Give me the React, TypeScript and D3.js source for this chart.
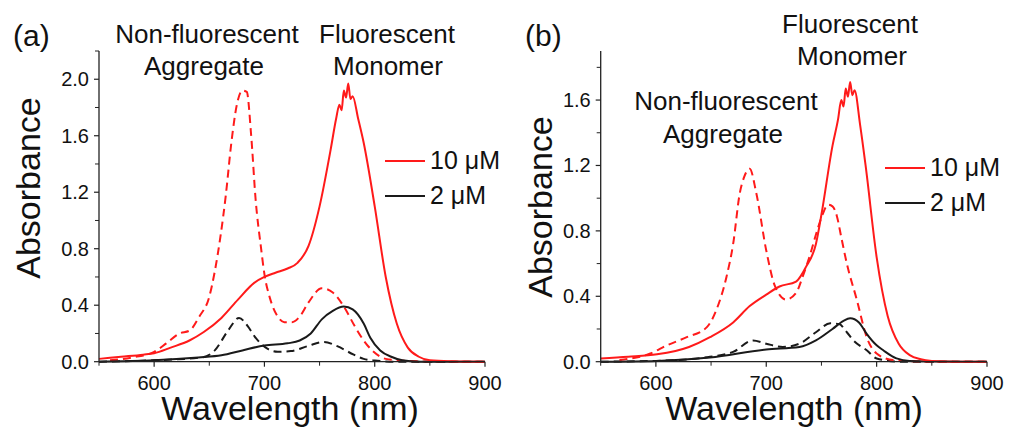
import React from 'react';
import * as d3 from 'd3';

// ---- panel (a) data ----
const aRedSolidWl = [550, 570, 590, 600, 615, 632, 645, 661, 676, 691, 700, 710, 721, 730, 740, 750, 760, 765, 768, 770, 772, 774, 776, 778, 780, 785, 790, 800, 810, 820, 830, 840, 850, 870, 900];
const aRedSolidAbs = [0.02, 0.035, 0.05, 0.06, 0.1, 0.15, 0.21, 0.31, 0.44, 0.56, 0.6, 0.63, 0.66, 0.7, 0.82, 1.1, 1.5, 1.72, 1.82, 1.78, 1.92, 1.87, 1.97, 1.86, 1.88, 1.72, 1.55, 1.1, 0.6, 0.27, 0.1, 0.035, 0.01, 0.003, 0.0];

const aRedDashWl = [560, 580, 600, 611, 623, 632, 641, 650, 655, 660, 665, 670, 675, 680, 684, 688, 692, 697, 700, 705, 712, 718, 725, 732, 740, 752, 762, 772, 782, 790, 799, 810, 830, 860, 900];
const aRedDashAbs = [0.01, 0.03, 0.07, 0.13, 0.2, 0.22, 0.32, 0.46, 0.64, 0.88, 1.18, 1.55, 1.82, 1.92, 1.91, 1.6, 1.15, 0.8, 0.62, 0.45, 0.32, 0.28, 0.28, 0.32, 0.42, 0.52, 0.49, 0.39, 0.25, 0.15, 0.07, 0.02, 0.005, 0.0, 0.0];

const aBlackSolidWl = [550, 600, 640, 661, 680, 700, 721, 732, 742, 752, 762, 772, 780, 790, 796, 805, 815, 825, 840, 900];
const aBlackSolidAbs = [0.0, 0.01, 0.03, 0.045, 0.08, 0.115, 0.13, 0.15, 0.2, 0.3, 0.36, 0.39, 0.37, 0.27, 0.17, 0.08, 0.035, 0.01, 0.0, 0.0];

const aBlackDashWl = [550, 600, 643, 655, 667, 677, 685, 691, 703, 712, 724, 739, 754, 766, 781, 790, 800, 820, 900];
const aBlackDashAbs = [0.0, 0.01, 0.03, 0.08, 0.22, 0.31, 0.25, 0.18, 0.09, 0.07, 0.075, 0.11, 0.14, 0.11, 0.05, 0.02, 0.008, 0.0, 0.0];

// ---- panel (b) data ----
const bRedSolidWl = [550, 575, 601, 630, 649, 670, 685, 700, 712, 727, 736, 745, 750, 760, 765, 768, 770, 772, 774, 776, 778, 780, 785, 790, 800, 810, 820, 830, 840, 850, 870, 900];
const bRedSolidAbs = [0.02, 0.03, 0.045, 0.09, 0.15, 0.24, 0.34, 0.41, 0.46, 0.49, 0.58, 0.72, 0.9, 1.32, 1.48, 1.6, 1.56, 1.67, 1.62, 1.71, 1.63, 1.66, 1.45, 1.2, 0.64, 0.28, 0.11, 0.04, 0.015, 0.005, 0.0, 0.0];

const bRedDashWl = [567, 595, 610, 628, 646, 655, 664, 670, 676, 680, 685, 691, 700, 708, 718, 727, 733, 740, 746, 751, 756, 760, 764, 768, 773, 782, 791, 800, 815, 850, 900];
const bRedDashAbs = [0.01, 0.05, 0.1, 0.15, 0.21, 0.32, 0.52, 0.72, 1.03, 1.13, 1.18, 1.03, 0.68, 0.46, 0.38, 0.42, 0.52, 0.66, 0.8, 0.9, 0.96, 0.95, 0.89, 0.76, 0.6, 0.38, 0.15, 0.05, 0.01, 0.0, 0.0];

const bBlackSolidWl = [550, 601, 649, 700, 730, 745, 760, 770, 776, 784, 791, 800, 806, 818, 830, 900];
const bBlackSolidAbs = [0.0, 0.005, 0.025, 0.075, 0.09, 0.13, 0.2, 0.25, 0.265, 0.24, 0.17, 0.1, 0.07, 0.02, 0.005, 0.0];

const bBlackDashWl = [550, 600, 649, 670, 688, 700, 715, 730, 745, 758, 766, 773, 779, 791, 800, 820, 900];
const bBlackDashAbs = [0.0, 0.005, 0.03, 0.06, 0.13, 0.11, 0.09, 0.11, 0.18, 0.235, 0.23, 0.18, 0.13, 0.07, 0.02, 0.0, 0.0];

const xTicks = [600, 700, 800, 900];
const xMinorTicks = [550, 650, 750, 850];
const aYTicks = [0.0, 0.4, 0.8, 1.2, 1.6, 2.0];
const aYMinorTicks = [0.2, 0.6, 1.0, 1.4, 1.8, 2.2];
const bYTicks = [0.0, 0.4, 0.8, 1.2, 1.6];
const bYMinorTicks = [0.2, 0.6, 1.0, 1.4, 1.8];

const legendLabels = ['10 \u03bcM', '2 \u03bcM'];

const RED = '#ff1a1a';
const BLACK = '#1a1a1a';
const FONT = '"Liberation Sans", Arial, sans-serif';

const zip = (wl, abs) => wl.map((w, i) => [w, abs[i]]);

function Panel({ x0, x1, yMax, yTicks, yMinor, series, label, labelX, absX, absY, wlX, legendX, legendY, notes }) {
  const xScale = d3.scaleLinear().domain([550, 900]).range([x0, x1]);
  const yScale = d3.scaleLinear().domain([0, yMax]).range([361.7, 51]);
  const line = d3.line()
    .x(d => xScale(d[0]))
    .y(d => yScale(d[1]))
    .curve(d3.curveMonotoneX);
  const yBase = yScale(0);

  return (
    <g fontFamily={FONT} fill="#111">
      {/* curves */}
      {series.map((s, i) => (
        <path key={i} d={line(s.data)} fill="none" stroke={s.color} strokeWidth={2}
          strokeDasharray={s.dashed ? '8,5' : null} strokeLinejoin="round" />
      ))}

      {/* axes */}
      <line x1={x0} x2={x0} y1={yScale(yMax)} y2={yBase} stroke="#222" strokeWidth={1.3} />
      <line x1={x0} x2={x1} y1={yBase} y2={yBase} stroke="#222" strokeWidth={1.3} />
      {yTicks.map(t => (
        <g key={'y' + t}>
          <line x1={x0 - 5} x2={x0} y1={yScale(t)} y2={yScale(t)} stroke="#222" strokeWidth={1.2} />
          <text x={x0 - 10} y={yScale(t) + 7} textAnchor="end" fontSize={20}>{t.toFixed(1)}</text>
        </g>
      ))}
      {yMinor.map(t => (
        <line key={'ym' + t} x1={x0 - 4} x2={x0} y1={yScale(t)} y2={yScale(t)} stroke="#222" strokeWidth={1} />
      ))}
      {xTicks.map(t => (
        <g key={'x' + t}>
          <line x1={xScale(t)} x2={xScale(t)} y1={yBase} y2={yBase + 5} stroke="#222" strokeWidth={1.2} />
          <text x={xScale(t)} y={390} textAnchor="middle" fontSize={20}>{t}</text>
        </g>
      ))}
      {xMinorTicks.map(t => (
        <line key={'xm' + t} x1={xScale(t)} x2={xScale(t)} y1={yBase} y2={yBase + 4} stroke="#222" strokeWidth={1} />
      ))}

      {/* axis titles */}
      <text x={wlX} y={420} textAnchor="middle" fontSize={34}>Wavelength (nm)</text>
      <text transform={`translate(${absX},${absY}) rotate(-90)`} textAnchor="middle" fontSize={34}>Absorbance</text>

      {/* panel label */}
      <text x={labelX} y={46} fontSize={30}>{label}</text>

      {/* annotations */}
      {notes.map((n, i) => (
        <text key={i} x={n.x} y={n.y} textAnchor="middle" fontSize={26}>{n.text}</text>
      ))}

      {/* legend */}
      {legendLabels.map((l, i) => (
        <g key={l}>
          <line x1={legendX} x2={legendX + 40} y1={legendY + i * 35} y2={legendY + i * 35}
            stroke={i === 0 ? RED : BLACK} strokeWidth={2} />
          <text x={legendX + 45} y={legendY + i * 35 + 7.5} fontSize={25}>{l}</text>
        </g>
      ))}
    </g>
  );
}

export default function App() {
  const aSeries = [
    { data: zip(aBlackDashWl, aBlackDashAbs), color: BLACK, dashed: true },
    { data: zip(aRedDashWl, aRedDashAbs), color: RED, dashed: true },
    { data: zip(aBlackSolidWl, aBlackSolidAbs), color: BLACK, dashed: false },
    { data: zip(aRedSolidWl, aRedSolidAbs), color: RED, dashed: false },
  ];
  const bSeries = [
    { data: zip(bBlackDashWl, bBlackDashAbs), color: BLACK, dashed: true },
    { data: zip(bRedDashWl, bRedDashAbs), color: RED, dashed: true },
    { data: zip(bBlackSolidWl, bBlackSolidAbs), color: BLACK, dashed: false },
    { data: zip(bRedSolidWl, bRedSolidAbs), color: RED, dashed: false },
  ];

  return (
    <div style={{ position: 'absolute', left: 0, top: 0 }}>
      <svg width={1014} height={431} style={{ display: 'block', background: '#fff' }}>
        <Panel x0={99} x1={485} yMax={2.2} yTicks={aYTicks} yMinor={aYMinorTicks} series={aSeries}
          label="(a)" labelX={13} absX={40} absY={188} wlX={290} legendX={385} legendY={161}
          notes={[
            { text: 'Non-fluorescent', x: 207, y: 43 },
            { text: 'Aggregate', x: 204, y: 75 },
            { text: 'Fluorescent', x: 387, y: 43 },
            { text: 'Monomer', x: 388, y: 75 },
          ]} />
        <Panel x0={600.7} x1={987} yMax={1.9} yTicks={bYTicks} yMinor={bYMinorTicks} series={bSeries}
          label="(b)" labelX={525} absX={552} absY={207} wlX={794} legendX={885} legendY={168}
          notes={[
            { text: 'Fluorescent', x: 850, y: 33 },
            { text: 'Monomer', x: 852, y: 65 },
            { text: 'Non-fluorescent', x: 726, y: 110 },
            { text: 'Aggregate', x: 723, y: 143 },
          ]} />
      </svg>
    </div>
  );
}
